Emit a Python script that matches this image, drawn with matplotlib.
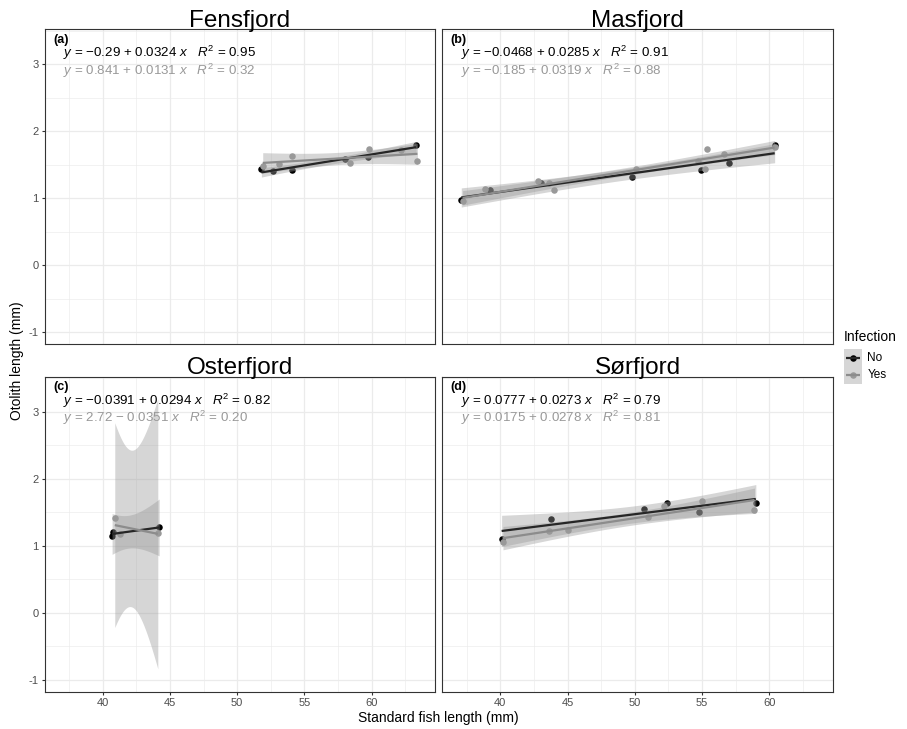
import matplotlib
matplotlib.use('Agg')
import matplotlib.pyplot as plt
import numpy as np

plt.rcParams['font.family'] = ['Liberation Sans', 'DejaVu Sans']
plt.rcParams['mathtext.fontset'] = 'custom'
plt.rcParams['mathtext.rm'] = 'Liberation Sans'
plt.rcParams['mathtext.it'] = 'Liberation Sans:italic'
plt.rcParams['mathtext.bf'] = 'Liberation Sans:bold'

# ---------------- data ----------------
panel_names = ["Fensfjord", "Masfjord", "Osterfjord", "Sørfjord"]
panel_letters = ["(a)", "(b)", "(c)", "(d)"]

fens_no_x = [51.8, 52.7, 54.1, 58.0, 59.7, 63.3]
fens_no_y = [1.44, 1.40, 1.42, 1.58, 1.62, 1.79]
fens_yes_x = [51.9, 53.1, 54.1, 58.4, 59.8, 62.2, 63.4]
fens_yes_y = [1.48, 1.51, 1.63, 1.53, 1.73, 1.72, 1.55]

mas_no_x = [37.1, 39.2, 43.0, 49.8, 54.9, 57.0, 60.4]
mas_no_y = [0.98, 1.12, 1.23, 1.32, 1.42, 1.52, 1.80]
mas_yes_x = [37.2, 38.9, 42.8, 43.6, 44.0, 50.1, 54.7, 55.2, 55.4, 56.6, 60.4]
mas_yes_y = [0.96, 1.13, 1.25, 1.22, 1.12, 1.43, 1.56, 1.43, 1.73, 1.66, 1.76]

ost_no_x = [40.7, 40.8, 44.2]
ost_no_y = [1.15, 1.20, 1.27]
ost_yes_x = [40.9, 41.3, 44.1]
ost_yes_y = [1.41, 1.17, 1.19]

sor_no_x = [40.1, 43.8, 50.7, 52.4, 54.8, 59.0]
sor_no_y = [1.10, 1.40, 1.55, 1.64, 1.50, 1.64]
sor_yes_x = [40.2, 43.6, 45.0, 51.0, 52.2, 55.0, 58.9]
sor_yes_y = [1.06, 1.22, 1.24, 1.43, 1.59, 1.67, 1.53]

eq_no = [
    r"$y$ = −0.29 + 0.0324 $x$   $R^2$ = 0.95",
    r"$y$ = −0.0468 + 0.0285 $x$   $R^2$ = 0.91",
    r"$y$ = −0.0391 + 0.0294 $x$   $R^2$ = 0.82",
    r"$y$ = 0.0777 + 0.0273 $x$   $R^2$ = 0.79",
]
eq_yes = [
    r"$y$ = 0.841 + 0.0131 $x$   $R^2$ = 0.32",
    r"$y$ = −0.185 + 0.0319 $x$   $R^2$ = 0.88",
    r"$y$ = 2.72 − 0.0351 $x$   $R^2$ = 0.20",
    r"$y$ = 0.0175 + 0.0278 $x$   $R^2$ = 0.81",
]

groups = ["No", "Yes"]
x_ticks = [40, 45, 50, 55, 60]
y_ticks = [-1, 0, 1, 2, 3]

data = [
    ((fens_no_x, fens_no_y), (fens_yes_x, fens_yes_y)),
    ((mas_no_x, mas_no_y), (mas_yes_x, mas_yes_y)),
    ((ost_no_x, ost_no_y), (ost_yes_x, ost_yes_y)),
    ((sor_no_x, sor_no_y), (sor_yes_x, sor_yes_y)),
]

# ---------------- styling ----------------
pt_colors = ["#000000", "#999999"]
line_colors = ["#262626", "#8c8c8c"]
text_colors = ["#000000", "#999999"]
ribbon_fill = "#999999"
ribbon_alpha = 0.4
T975 = {1: 12.706, 2: 4.303, 3: 3.182, 4: 2.776, 5: 2.571, 6: 2.447,
        7: 2.365, 8: 2.306, 9: 2.262, 10: 2.228, 11: 2.201, 12: 2.179}

W, H = 907, 729
fig = plt.figure(figsize=(W / 100, H / 100), dpi=100)

def px_ax(l, t, r, b):
    return fig.add_axes([l / W, 1 - b / H, (r - l) / W, (b - t) / H])

pl, pr = 44.7, 435.3
dx = 397.6
pt_, pb = 29.3, 344.3
dy = 347.4
boxes = [(pl, pt_), (pl + dx, pt_), (pl, pt_ + dy), (pl + dx, pt_ + dy)]
pw, ph = pr - pl, pb - pt_

xlim = (35.69, 64.73)
ylim = (-1.18, 3.52)

for i, (l, t) in enumerate(boxes):
    ax = px_ax(l, t, l + pw, t + ph)
    ax.set_xlim(*xlim)
    ax.set_ylim(*ylim)
    ax.set_facecolor("white")
    # grid
    for v in [37.5, 42.5, 47.5, 52.5, 57.5, 62.5]:
        ax.axvline(v, color="#ebebeb", lw=0.45, zorder=0)
    for v in [-0.5, 0.5, 1.5, 2.5, 3.5]:
        ax.axhline(v, color="#ebebeb", lw=0.45, zorder=0)
    for v in x_ticks:
        ax.axvline(v, color="#ebebeb", lw=0.9, zorder=0)
    for v in y_ticks:
        ax.axhline(v, color="#ebebeb", lw=0.9, zorder=0)
    for s in ax.spines.values():
        s.set_color("#333333")
        s.set_linewidth(0.8)
    ax.set_xticks(x_ticks)
    ax.set_yticks(y_ticks)
    ax.tick_params(colors="#333333", length=2.5, width=0.8,
                   labelcolor="#4d4d4d", labelsize=8)
    ax.tick_params(axis='x', pad=2)
    ax.tick_params(axis='y', pad=2)
    if i in (0, 2):
        ax.set_yticklabels([str(v) for v in y_ticks])
    else:
        ax.tick_params(axis='y', left=False, labelleft=False)
    if i in (2, 3):
        ax.set_xticklabels([str(v) for v in x_ticks])
    else:
        ax.tick_params(axis='x', bottom=False, labelbottom=False)

    # points
    for g in range(2):
        xs, ys = np.array(data[i][g][0]), np.array(data[i][g][1])
        ax.scatter(xs, ys, s=22, color=pt_colors[g], zorder=2, linewidths=0)
    # smooths
    for g in range(2):
        xs, ys = np.array(data[i][g][0]), np.array(data[i][g][1])
        n = len(xs)
        b, a = np.polyfit(xs, ys, 1)
        xx = np.linspace(xs.min(), xs.max(), 80)
        yy = a + b * xx
        res = ys - (a + b * xs)
        sig = np.sqrt(np.sum(res ** 2) / (n - 2))
        sxx = np.sum((xs - xs.mean()) ** 2)
        se = sig * np.sqrt(1 / n + (xx - xs.mean()) ** 2 / sxx)
        tq = T975[n - 2]
        ax.fill_between(xx, yy - tq * se, yy + tq * se, color=ribbon_fill,
                        alpha=ribbon_alpha, lw=0, zorder=3)
    for g in range(2):
        xs, ys = np.array(data[i][g][0]), np.array(data[i][g][1])
        b, a = np.polyfit(xs, ys, 1)
        xx = np.linspace(xs.min(), xs.max(), 80)
        ax.plot(xx, a + b * xx, color=line_colors[g], lw=1.6, zorder=4,
                solid_capstyle='butt')

    # strip title
    fig.text((l + pw / 2) / W, 1 - (t - 2.5) / H, panel_names[i],
             ha='center', va='baseline', fontsize=17.5, color="#000000")
    # letter + equations
    fig.text((l + 8.5) / W, 1 - (t + 13.5) / H, panel_letters[i],
             ha='left', va='baseline', fontsize=9, fontweight='bold')
    fig.text((l + 18.5) / W, 1 - (t + 28) / H, eq_no[i],
             ha='left', va='baseline', fontsize=9.6, color=text_colors[0])
    fig.text((l + 18.5) / W, 1 - (t + 45.5) / H, eq_yes[i],
             ha='left', va='baseline', fontsize=9.6, color=text_colors[1])

# axis titles
fig.text((pl + pl + dx + pw) / 2 / W, 1 - 718 / H, "Standard fish length (mm)",
         ha='center', va='center', fontsize=10, color="#000000")
fig.text(17 / W, 1 - ((pt_ + pt_ + dy + ph) / 2) / H, "Otolith length (mm)",
         ha='center', va='center', rotation=90, fontsize=10, color="#000000")

# legend
lx, ly = 844, 337
fig.text(lx / W, 1 - ly / H, "Infection", ha='left', va='center',
         fontsize=10, color="#000000")
lax = fig.add_axes([0, 0, 1, 1], facecolor='none')
lax.set_xlim(0, W)
lax.set_ylim(H, 0)
lax.axis('off')
key_w, key_h = 17.5, 17.5
for k, g in enumerate(groups):
    ky = 349 + k * key_h
    lax.add_patch(plt.Rectangle((lx, ky), key_w, key_h, color=ribbon_fill,
                                alpha=ribbon_alpha, lw=0))
    cy = ky + key_h / 2
    lax.plot([lx + 1.5, lx + key_w - 1.5], [cy, cy], color=line_colors[k],
             lw=1.6, solid_capstyle='butt')
    lax.scatter([lx + key_w / 2], [cy], s=22, color=pt_colors[k], lw=0)
    fig.text((lx + key_w + 6) / W, 1 - cy / H, g, ha='left', va='center',
             fontsize=8.5, color="#000000")

fig.savefig("out.png", dpi=100)
